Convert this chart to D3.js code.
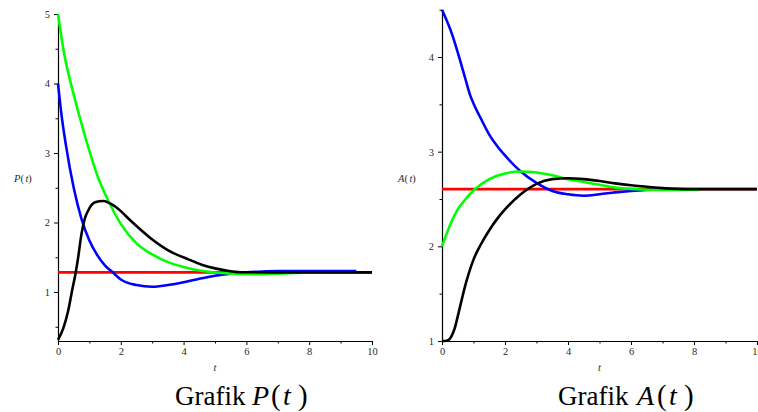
<!DOCTYPE html>
<html><head><meta charset="utf-8">
<script src="https://cdn.jsdelivr.net/npm/d3@7"></script>
<style>body{margin:0;background:#fff;overflow:hidden} svg{display:block}</style>
</head><body>
<svg id="c" width="758" height="412"></svg>
<script>
// ---- tick values ----
const tTicks = [0, 2, 4, 6, 8, 10];
const tMinor = [1, 3, 5, 7, 9];
const pTicks = [1, 2, 3, 4, 5];
const pMinor = [0.5, 1.5, 2.5, 3.5, 4.5];
const aTicks = [1, 2, 3, 4];
const aMinor = [1.5, 2.5, 3.5, 4.5];

// ---- P(t) series ----
const tRedP = [0, 10];
const redP = [1.283, 1.283];
const tBlueP = [0, 0.12, 0.25, 0.5, 0.75, 1, 1.25, 1.5, 1.75, 2, 2.5, 3, 3.5, 4, 4.5, 5, 5.5, 6, 6.5, 7, 8, 9, 9.5];
const blueP = [4.0, 3.52, 3.12, 2.50, 2.05, 1.74, 1.53, 1.38, 1.28, 1.18, 1.10, 1.075, 1.10, 1.14, 1.19, 1.235, 1.265, 1.285, 1.295, 1.30, 1.30, 1.30, 1.30];
const tGreenP = [0, 0.2, 0.45, 0.7, 1, 1.25, 1.5, 1.75, 2, 2.5, 3, 3.5, 4, 4.5, 5, 5.5, 6, 6.5, 7, 8, 8.5];
const greenP = [5.0, 4.42, 3.93, 3.50, 3.03, 2.68, 2.41, 2.18, 1.98, 1.70, 1.54, 1.43, 1.36, 1.31, 1.28, 1.265, 1.258, 1.257, 1.265, 1.28, 1.285];
const tBlackP = [0, 0.17, 0.33, 0.44, 0.56, 0.63, 0.75, 0.85, 0.97, 1.18, 1.44, 1.82, 2.35, 2.88, 3.51, 4.15, 4.6, 5.0, 5.4, 5.8, 7, 8, 9, 10];
const blackP = [0.31, 0.48, 0.74, 1.0, 1.27, 1.46, 1.84, 2.05, 2.18, 2.29, 2.31, 2.23, 2.01, 1.80, 1.60, 1.47, 1.39, 1.34, 1.305, 1.285, 1.283, 1.283, 1.283, 1.283];

// ---- A(t) series ----
const tRedA = [0, 10];
const redA = [2.605, 2.605];
const tBlueA = [0, 0.31, 0.57, 0.75, 0.89, 1.0, 1.25, 1.5, 1.75, 2, 2.5, 3, 3.5, 4, 4.5, 5, 5.5, 6, 6.5, 7];
const blueA = [4.50, 4.25, 3.97, 3.76, 3.60, 3.51, 3.34, 3.18, 3.06, 2.96, 2.79, 2.67, 2.585, 2.55, 2.535, 2.55, 2.57, 2.585, 2.595, 2.60];
const tGreenA = [0, 0.25, 0.5, 0.75, 1, 1.5, 2, 2.5, 3, 3.5, 4, 4.5, 5, 5.5, 6, 7, 8.2];
const greenA = [2.0, 2.22, 2.39, 2.50, 2.59, 2.71, 2.77, 2.79, 2.78, 2.75, 2.71, 2.68, 2.65, 2.62, 2.605, 2.595, 2.595];
const tBlackA = [0, 0.1, 0.2, 0.3, 0.4, 0.5, 0.6, 0.75, 1, 1.25, 1.5, 1.75, 2, 2.5, 3, 3.5, 4, 4.5, 5, 5.5, 6, 6.5, 7, 7.5, 8, 10];
const blackA = [1.0, 1.0, 1.01, 1.05, 1.13, 1.26, 1.40, 1.60, 1.86, 2.03, 2.17, 2.29, 2.39, 2.55, 2.66, 2.71, 2.72, 2.71, 2.69, 2.665, 2.645, 2.63, 2.615, 2.607, 2.605, 2.605];

const svg = d3.select("#c");
const tickFont = "Liberation Serif";

function panel(cfg) {
  const x = d3.scaleLinear().domain([0, 10]).range(cfg.xr);
  const y = d3.scaleLinear().domain(cfg.yd).range(cfg.yr);
  const g = svg.append("g");

  // minor ticks
  const gmy = g.append("g").attr("transform", `translate(${cfg.xr[0]},0)`)
    .call(d3.axisLeft(y).tickValues(cfg.yMinor).tickSize(2.5).tickSizeOuter(0).tickFormat(""));
  gmy.select(".domain").remove();
  const gmx = g.append("g").attr("transform", `translate(0,${cfg.yr[0]})`)
    .call(d3.axisBottom(x).tickValues(tMinor).tickSize(2.5).tickSizeOuter(0).tickFormat(""));
  gmx.select(".domain").remove();

  // major axes
  const gy = g.append("g").attr("transform", `translate(${cfg.xr[0]},0)`)
    .call(d3.axisLeft(y).tickValues(cfg.yTicks).tickSize(4).tickPadding(4).tickSizeOuter(0).tickFormat(d3.format("d")));
  const gx = g.append("g").attr("transform", `translate(0,${cfg.yr[0]})`)
    .call(d3.axisBottom(x).tickValues(tTicks).tickSize(4).tickPadding(3).tickSizeOuter(0).tickFormat(d3.format("d")));
  [gy, gx, gmx, gmy].forEach(a => {
    a.selectAll("text").attr("font-family", tickFont).attr("font-size", 10.5).attr("fill", "#2a2a2a");
    a.selectAll("line").attr("stroke", "#000");
    a.selectAll(".domain").attr("stroke", "#000").attr("stroke-width", 1.2);
  });

  const line = d3.line().x(d => x(d[0])).y(d => y(d[1])).curve(d3.curveMonotoneX);
  cfg.series.forEach(s => {
    g.append("path").datum(d3.zip(s.t, s.v)).attr("d", line)
      .attr("fill", "none").attr("stroke", s.c).attr("stroke-width", 2.6)
      .attr("stroke-linejoin", "round").attr("stroke-linecap", "butt");
  });

  // axis titles
  const xm = (cfg.xr[0] + cfg.xr[1]) / 2;
  g.append("text").attr("x", xm).attr("y", 371).attr("text-anchor", "middle")
    .attr("font-family", "Liberation Serif").attr("font-style", "italic").attr("font-size", 10.5)
    .attr("fill", "#2a2a2a").text("t");
  const yl = g.append("text").attr("x", cfg.ylx).attr("y", 182)
    .attr("font-family", "Liberation Serif").attr("font-size", 10.5).attr("fill", "#2a2a2a");
  yl.append("tspan").attr("font-style", "italic").text(cfg.ylab);
  yl.append("tspan").text("(");
  yl.append("tspan").attr("font-style", "italic").attr("dx", 1.5).text("t");
  yl.append("tspan").text(")");

  // panel caption
  const tt = g.append("text").attr("transform", `translate(${cfg.capx},405)`)
    .attr("font-family", "Liberation Serif").attr("font-size", 27).attr("fill", "#000");
  tt.append("tspan").attr("x", 0).text("Grafik ");
  tt.append("tspan").attr("x", cfg.cap[0]).attr("font-style", "italic").attr("font-size", 28).text(cfg.ylab);
  tt.append("tspan").attr("x", cfg.cap[1]).attr("font-size", 29).text("(");
  tt.append("tspan").attr("x", cfg.cap[2]).attr("font-style", "italic").attr("font-size", 28).text("t");
  tt.append("tspan").attr("x", cfg.cap[3]).attr("font-size", 29).text(")");
}

panel({
  xr: [58, 372], yd: [0.295, 5], yr: [341, 14],
  yTicks: pTicks, yMinor: pMinor, ylab: "P", ylx: 14,
  capx: 175, cap: [77, 96, 108, 123],
  series: [
    {t: tRedP, v: redP, c: "#ff0000"},
    {t: tBlueP, v: blueP, c: "#0000ff"},
    {t: tGreenP, v: greenP, c: "#00ff00"},
    {t: tBlackP, v: blackP, c: "#000000"}
  ]
});
panel({
  xr: [442, 757], yd: [1, 4.5], yr: [341, 9.7],
  yTicks: aTicks, yMinor: aMinor, ylab: "A", ylx: 398,
  capx: 558, cap: [79, 99, 111, 126],
  series: [
    {t: tRedA, v: redA, c: "#ff0000"},
    {t: tBlueA, v: blueA, c: "#0000ff"},
    {t: tGreenA, v: greenA, c: "#00ff00"},
    {t: tBlackA, v: blackA, c: "#000000"}
  ]
});
</script>
</body></html>
